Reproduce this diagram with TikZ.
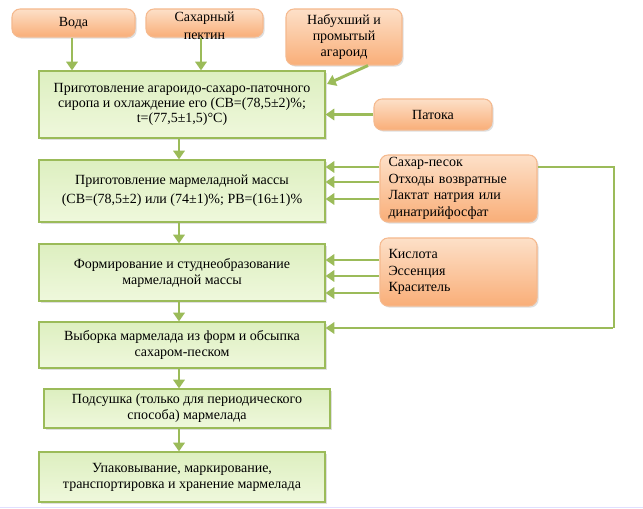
\documentclass[tikz,border=0pt]{standalone}
\usepackage{fontspec}
\setmainfont{Liberation Serif}
\newfontfamily\tnr{Liberation Serif}
\usetikzlibrary{arrows.meta,calc,shadows}
\definecolor{grline}{HTML}{9BBB59}
\definecolor{grtop}{HTML}{DDEFC0}
\definecolor{grbot}{HTML}{EFF8DC}
\definecolor{ortop}{HTML}{FDE0C8}
\definecolor{orbot}{HTML}{F9AE78}
\definecolor{orline}{HTML}{F5B98E}
\tikzset{
  greenbox/.style={draw=grline, line width=0.9pt, top color=grtop, bottom color=grbot,
    drop shadow={shadow xshift=1.2pt, shadow yshift=-1.2pt, opacity=0.25},
    minimum width=286*0.75pt, inner sep=0pt, align=center,
    font=\tnr\fontsize{10.5}{12}\selectfont},
  orangebox/.style={draw=orline, line width=0.8pt, rounded corners=6pt, top color=ortop, bottom color=orbot,
    drop shadow={shadow xshift=1.2pt, shadow yshift=-1.2pt, opacity=0.25},
    inner sep=0pt, align=center, font=\tnr\fontsize{10.5}{12}\selectfont},
  arr/.style={draw=grline, line width=2.2pt, -{Triangle[length=6.5pt,width=8.5pt]}},
  fb/.style={draw=grline, line width=2.2pt}
}
\begin{document}
\begin{tikzpicture}[x=0.75pt,y=-0.75pt]
\useasboundingbox (0,0) rectangle (643,509);
\fill[white] (0,0) rectangle (643,509);
\draw[color=blue!12, line width=1pt] (0,507.5) -- (643,507.5);

% orange input boxes
\node[orangebox, minimum width=123*0.75pt, minimum height=28*0.75pt] (voda) at (73.5,23) {Вода};
\node[orangebox, minimum width=117*0.75pt, minimum height=28*0.75pt] (pektin) at (204.5,23) {};
\node[font=\tnr\fontsize{10.5}{13.5}\selectfont, align=center] at (204.5,25.5) {Сахарный\\пектин};
\node[orangebox, minimum width=116*0.75pt, minimum height=56*0.75pt] (agar) at (344,37) {Набухший и\\промытый\\агароид};
\node[orangebox, minimum width=118*0.75pt, minimum height=31*0.75pt] (patoka) at (433,114.5) {Патока};
\node[orangebox, minimum width=157*0.75pt, minimum height=67*0.75pt, align=left, text width=140*0.75pt,
      font=\tnr\fontsize{10.5}{12.5}\selectfont] (sugar) at (458.5,188.5)
      {Сахар-песок\\Отходы возвратные\\Лактат натрия или\\динатрийфосфат};
\node[orangebox, minimum width=157*0.75pt, minimum height=68*0.75pt, align=left, text width=140*0.75pt,
      font=\tnr\fontsize{10.5}{12.5}\selectfont] (acid) at (458.5,272)
      {Кислота\\Эссенция\\Краситель};

% main process boxes
\node[greenbox, minimum height=67*0.75pt, font=\tnr\fontsize{10.5}{11.5}\selectfont] (m1) at (182,104.5)
  {Приготовление агароидо-сахаро-паточного\\сиропа и охлаждение его (СВ=(78,5±2)\%;\\t=(77,5±1,5)°С)};
\node[greenbox, minimum height=62*0.75pt, font=\tnr\fontsize{10.5}{14}\selectfont] (m2) at (182,191)
  {Приготовление мармеладной массы\\(СВ=(78,5±2) или (74±1)\%; РВ=(16±1)\%};
\node[greenbox, minimum height=57*0.75pt] (m3) at (182,272.5)
  {Формирование и студнеобразование\\мармеладной массы};
\node[greenbox, minimum height=46*0.75pt] (m4) at (182,345)
  {Выборка мармелада из форм и обсыпка\\сахаром-песком};
\node[greenbox, minimum height=39*0.75pt] (m5) at (187,408.5)
  {Подсушка (только для периодического\\способа) мармелада};
\node[greenbox, minimum height=50*0.75pt] (m6) at (182,477)
  {Упаковывание, маркирование,\\транспортировка и хранение мармелада};

% input arrows
\draw[arr] (voda.south -| 72,0) -- (m1.north -| 72,0);
\draw[arr] (pektin.south -| 201,0) -- (m1.north -| 201,0);
\draw[arr] ($(agar.south)+(24*0.75pt,0)$) -- (327,84);
\draw[arr] (patoka.west) -- (m1.east |- patoka.west);

% vertical flow
\foreach \a/\b in {m1/m2,m2/m3,m3/m4,m4/m5,m5/m6}
  \draw[arr] (\a.south -| 179,0) -- (\b.north -| 179,0);

% side inputs
\foreach \yy in {167,182,199}
  \draw[arr] (sugar.west |- 0,\yy) -- (m2.east |- 0,\yy);
\foreach \yy in {260,276,293}
  \draw[arr] (acid.west |- 0,\yy) -- (m3.east |- 0,\yy);

% feedback
\coordinate (fb1) at (614,167);
\coordinate (fb2) at (614,328);
\draw[fb] (sugar.east |- fb1) -- (fb1) -- (fb2);
\draw[arr] ([xshift=-1.1pt]fb2) -- (m4.east |- fb2);
\end{tikzpicture}
\end{document}
